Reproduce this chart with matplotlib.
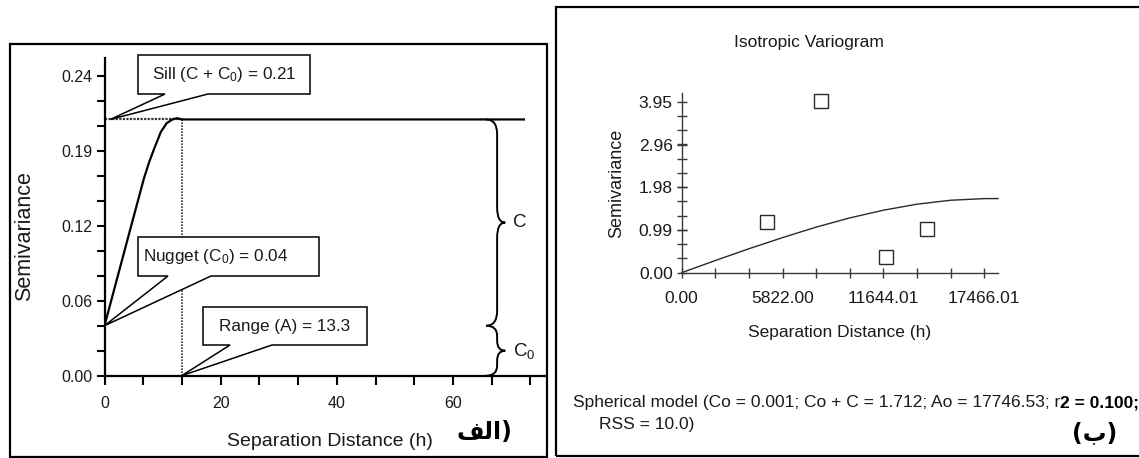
import numpy as np
import matplotlib
matplotlib.use("Agg")
import matplotlib.pyplot as plt
from matplotlib.patches import Rectangle, Polygon, PathPatch
from matplotlib.path import Path

plt.rcParams["mathtext.fontset"] = "custom"
plt.rcParams["mathtext.rm"] = "Liberation Sans"
plt.rcParams["mathtext.it"] = "Liberation Sans:italic"

############### Data ###############
# left panel (theoretical variogram sketch)
nugget = 0.04
sill = 0.205
range_a = 13.3
curve_h = [0, 2.3, 4.6, 6.8, 7.7, 8.5, 9.7, 10.7, 11.7, 12.5, 13.3, 72.4]
curve_g = [0.04, 0.08, 0.12, 0.158, 0.171, 0.181, 0.195, 0.202, 0.205, 0.206, 0.205, 0.205]
left_yticks = [0.0, 0.06, 0.12, 0.18, 0.24]
left_yticklabels = ["0.00", "0.06", "0.12", "0.19", "0.24"]
left_xticks = [0, 20, 40, 60]

# right panel (isotropic variogram, spherical model)
pts_h = [4916, 8021, 11817, 14167]
pts_g = [1.16, 3.97, 0.37, 1.00]
model_h = [0, 1940, 3881, 5822, 7762, 9703, 11644, 13584, 15525, 17466, 18270]
model_g = [0.001, 0.281, 0.553, 0.81, 1.052, 1.265, 1.443, 1.582, 1.673, 1.711, 1.712]
right_xticks = [0.0, 5822.00, 11644.01, 17466.01]
right_xticklabels = ["0.00", "5822.00", "11644.01", "17466.01"]
right_yticks = [0.0, 0.99, 1.98, 2.96, 3.95]
right_yticklabels = ["0.00", "0.99", "1.98", "2.96", "3.95"]

############### Layout helpers ###############
W, H = 1139, 458
fig = plt.figure(figsize=(W / 100, H / 100), dpi=100)

def fx(x):
    return x / W

def fy(y):
    return 1 - y / H

def box_axes(x0, y0, x1, y1):
    # pixel box (top-left origin) -> axes rect
    return [fx(x0), fy(y1), fx(x1) - fx(x0), fy(y0) - fy(y1)]

REG = ["Liberation Sans", "DejaVu Sans"]
INK = "#1a1a1a"

# panel frames
fig.patches.append(Rectangle((fx(10), fy(457)), fx(547) - fx(10), fy(44) - fy(457),
                             transform=fig.transFigure, fill=False, lw=1.6, ec="black"))
fig.patches.append(Rectangle((fx(556), fy(456)), fx(1145) - fx(556), fy(7) - fy(456),
                             transform=fig.transFigure, fill=False, lw=1.6, ec="black"))

############### Left panel ###############
ax = fig.add_axes(box_axes(104.5, 58, 547, 375.7))
ax.set_xlim(0, (547 - 104.5) / 5.808)
ax.set_ylim(0, (375.7 - 58) / 1250.0)
for s in ["top", "right"]:
    ax.spines[s].set_visible(False)
for s in ["left", "bottom"]:
    ax.spines[s].set_linewidth(1.6)
ax.set_xticks(left_xticks)
ax.set_xticks(np.arange(1, 12) * 20 / 3.0, minor=True)
ax.set_yticks(left_yticks)
ax.set_yticklabels(left_yticklabels)
ax.set_yticks(np.arange(1, 12, 1) * 0.02, minor=True)
ax.tick_params(which="both", direction="out", width=1.5, color="black")
ax.tick_params(axis="y", which="both", length=6, pad=3, labelsize=11.5, labelcolor=INK)
ax.tick_params(axis="x", which="both", length=6.5, pad=8, labelsize=11.5, labelcolor=INK)
for lab in ax.get_xticklabels() + ax.get_yticklabels():
    lab.set_family(REG)
ax.patch.set_alpha(0)

ax.plot(curve_h, curve_g, color="black", lw=1.6, solid_capstyle="butt",
        solid_joinstyle="round", zorder=3)
ax.plot([0, range_a], [sill, sill], color="#333333", lw=1.6, ls=(0, (1, 0.6)), zorder=2)
ax.plot([range_a, range_a], [0, sill], color="#333333", lw=1.2, ls=(0, (1, 0.8)), zorder=2)

def callout(text, box, base, tip, tx, fs=12.3):
    # box/base in pixel coords (top-left origin), tip in data coords
    x0, y0, x1, y1 = box
    tipx, tipy = fig.transFigure.inverted().transform(ax.transData.transform(tip))
    verts = [(fx(x0), fy(y0)), (fx(x1), fy(y0)), (fx(x1), fy(y1)), (fx(base[1]), fy(y1)),
             (tipx, tipy), (fx(base[0]), fy(y1)), (fx(x0), fy(y1))]
    fig.patches.append(Polygon(verts, closed=True, transform=fig.transFigure,
                               fc="white", ec="black", lw=1.1, zorder=5))
    fig.text(fx(tx), fy((y0 + y1) / 2.0), text, ha="center", va="center",
             fontsize=fs, family=REG, color=INK, zorder=6)

callout("Sill (C + C$_0$) = 0.21", (138, 55, 310, 94), (165, 208), (1.0, sill), 224)
callout("Nugget (C$_0$) = 0.04", (138, 237, 319, 276), (168, 211), (0.0, nugget), 216)
callout("Range (A) = 13.3", (203, 307, 367, 345), (230, 272), (range_a, 0.0), 285)

def brace(xm, y0, y1, wl, wr, h):
    ym = (y0 + y1) / 2.0
    verts = [(xm - wl, y1), (xm, y1), (xm, y1 - h), (xm, ym + h), (xm, ym), (xm + wr, ym),
             (xm, ym), (xm, ym - h), (xm, y0 + h), (xm, y0), (xm - wl, y0)]
    codes = [Path.MOVETO, Path.CURVE3, Path.CURVE3, Path.LINETO, Path.CURVE3, Path.CURVE3,
             Path.CURVE3, Path.CURVE3, Path.LINETO, Path.CURVE3, Path.CURVE3]
    ax.add_patch(PathPatch(Path(verts, codes), fill=False, ec="black", lw=1.4, zorder=4,
                           clip_on=False))
    return ym

ym = brace(67.6, nugget, sill, 1.9, 1.4, 0.012)
ax.text(70.4, ym, "C", ha="left", va="center", fontsize=13.5, family=REG, color=INK)
ym = brace(67.6, 0.0, nugget, 1.9, 1.4, 0.008)
ax.text(70.4, ym, "C$_0$", ha="left", va="center", fontsize=13.5, family=REG, color=INK)

fig.text(fx(25), fy(236), "Semivariance", rotation=90, ha="center", va="center",
         fontsize=15.5, family=REG, color=INK)
fig.text(fx(330), fy(442), "Separation Distance (h)", ha="center", va="center",
         fontsize=14, family=REG, color=INK)
# "(الف" drawn with presentation forms in visual order
fig.text(fx(484), fy(432), "\uFED2\uFEDF\uFE8D)", ha="center", va="center",
         fontsize=17, family=["DejaVu Sans"], weight="bold", color="black")

############### Right panel ###############
bx = fig.add_axes(box_axes(681.7, 92.7, 998, 272.7))
bx.set_xlim(0, (998 - 681.7) * 5822.0 / 100.8)
bx.set_ylim(0, (272.7 - 92.7) / 43.3)
for s in ["top", "right"]:
    bx.spines[s].set_visible(False)
for s in ["left", "bottom"]:
    bx.spines[s].set_linewidth(1.0)
    bx.spines[s].set_color("#3a3a3a")
bx.set_xticks(right_xticks)
bx.set_xticklabels(right_xticklabels)
bx.set_xticks(np.arange(1, 10) * 5822.0 / 3, minor=True)
bx.set_yticks(right_yticks)
bx.set_yticklabels(right_yticklabels)
bx.set_yticks(np.arange(1, 13) * 3.95 / 12, minor=True)
bx.tick_params(which="both", direction="inout", length=7, width=1.0, color="#3a3a3a")
bx.tick_params(axis="x", which="both", pad=9.5, labelsize=12.5, labelcolor=INK)
bx.tick_params(axis="y", which="both", pad=3, labelsize=12.5, labelcolor=INK)
for lab in bx.get_xticklabels() + bx.get_yticklabels():
    lab.set_family(REG)
bx.patch.set_alpha(0)

bx.plot(model_h, model_g, color="#2a2a2a", lw=1.0, clip_on=False)
bx.plot(pts_h, pts_g, ls="none", marker="s", ms=9.5, mfc="white", mec="#2a2a2a", mew=1.0,
        clip_on=False)

fig.text(fx(809), fy(42), "Isotropic Variogram", ha="center", va="center",
         fontsize=12.5, family=REG, color=INK)
fig.text(fx(617), fy(183), "Semivariance", rotation=90, ha="center", va="center",
         fontsize=13, family=REG, color=INK)
fig.text(fx(840), fy(333), "Separation Distance (h)", ha="center", va="center",
         fontsize=12.5, family=REG, color=INK)

t1 = fig.text(fx(573), fy(403), "Spherical model (Co = 0.001; Co + C = 1.712; Ao = 17746.53; r",
              ha="left", va="center", fontsize=12.5, family=REG, color=INK)
fig.canvas.draw()
bb = t1.get_window_extent()
fig.text(fig.transFigure.inverted().transform((bb.x1, 0))[0], fy(403), "2 = 0.100;",
         ha="left", va="center", fontsize=12.5, family=REG, weight="bold", color="black")
fig.text(fx(599), fy(425), "RSS = 10.0)", ha="left", va="center", fontsize=12.5,
         family=REG, color=INK)
# "(ب)"
fig.text(fx(1095), fy(433), "(\uFE8F)", ha="center", va="center", fontsize=17,
         family=["DejaVu Sans"], weight="bold", color="black")

fig.savefig("out.png", dpi=100)
